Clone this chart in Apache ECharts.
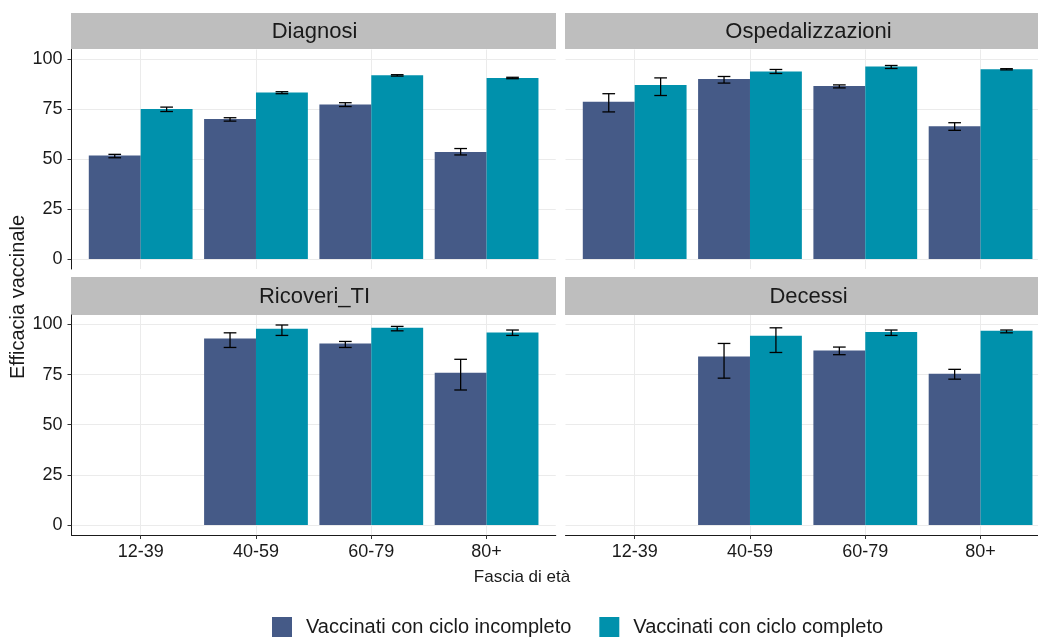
<!DOCTYPE html>
<html>
<head>
<meta charset="utf-8">
<script src="https://cdn.jsdelivr.net/npm/echarts@6/dist/echarts.min.js"></script>
<style>
  html, body { margin: 0; padding: 0; background: #ffffff; }
  #chart { width: 1038px; height: 637px; }
</style>
</head>
<body>
<div id="chart"></div>
<script>
// Vaccine effectiveness by age band, four outcomes, two vaccination statuses.
const ageGroups = ['12-39', '40-59', '60-79', '80+'];
const panels = ['Diagnosi', 'Ospedalizzazioni', 'Ricoveri_TI', 'Decessi'];
const groupNames = ['Vaccinati con ciclo incompleto', 'Vaccinati con ciclo completo'];
const yTicks = [0, 25, 50, 75, 100];

// Estimates and 95% intervals per outcome (null = no estimate)
const diagIncomplete     = [51.7, 69.9, 77.2, 53.5];
const diagIncompleteLo   = [50.6, 68.9, 76.2, 52.0];
const diagIncompleteHi   = [52.3, 70.6, 78.1, 55.2];
const diagComplete       = [74.9, 83.2, 91.8, 90.5];
const diagCompleteLo     = [73.7, 82.6, 91.4, 90.1];
const diagCompleteHi     = [75.9, 83.6, 92.1, 90.8];

const ospIncomplete      = [78.6, 90.0, 86.5, 66.3];
const ospIncompleteLo    = [73.5, 87.9, 85.5, 64.3];
const ospIncompleteHi    = [82.6, 91.2, 87.0, 68.1];
const ospComplete        = [87.0, 93.7, 96.2, 94.8];
const ospCompleteLo      = [81.7, 92.7, 95.2, 94.5];
const ospCompleteHi      = [90.5, 94.7, 96.7, 95.1];

const tiIncomplete       = [null, 93.0, 90.5, 75.9];
const tiIncompleteLo     = [null, 88.5, 88.5, 67.3];
const tiIncompleteHi     = [null, 95.8, 91.5, 82.6];
const tiComplete         = [null, 97.8, 98.3, 96.0];
const tiCompleteLo       = [null, 94.5, 96.8, 94.5];
const tiCompleteHi       = [null, 99.7, 99.0, 97.2];

const decIncomplete      = [null, 84.0, 87.0, 75.4];
const decIncompleteLo    = [null, 73.2, 84.9, 72.7];
const decIncompleteHi    = [null, 90.5, 88.7, 77.6];
const decComplete        = [null, 94.3, 96.2, 96.8];
const decCompleteLo      = [null, 86.0, 94.5, 95.8];
const decCompleteHi      = [null, 98.3, 97.2, 97.2];

const panelData = [
  [[diagIncomplete, diagIncompleteLo, diagIncompleteHi], [diagComplete, diagCompleteLo, diagCompleteHi]],
  [[ospIncomplete, ospIncompleteLo, ospIncompleteHi], [ospComplete, ospCompleteLo, ospCompleteHi]],
  [[tiIncomplete, tiIncompleteLo, tiIncompleteHi], [tiComplete, tiCompleteLo, tiCompleteHi]],
  [[decIncomplete, decIncompleteLo, decIncompleteHi], [decComplete, decCompleteLo, decCompleteHi]]
];

const colors = ['#455a87', '#0091ac'];
const FONT = "'Liberation Sans', Arial, sans-serif";
const gridColor = '#ebebeb';
const axisColor = '#1a1a1a';
const CANVAS_W = 1038;

// Shared y range: data range padded by 5% on both sides
let yTop = 0;
panelData.forEach(p => p.forEach(g => g[2].forEach(v => { if (v != null) yTop = Math.max(yTop, v); })));
const yPad = yTop * 0.05;

// Panel frames; the right-hand column runs past the canvas edge, so its
// x range is cut at the canvas border while keeping the same px-per-band.
const leftX = 71.5, rightX = 565.5, bandPx = 115.3;
const frames = [
  { left: leftX,  top: 49.5, height: 219.5 },
  { left: rightX, top: 49.5, height: 219.5 },
  { left: leftX,  top: 315,  height: 220 },
  { left: rightX, top: 315,  height: 220 }
];
frames.forEach((f, i) => {
  const full = 4.2 * bandPx;
  f.width = Math.min(full, CANVAS_W - f.left);
  f.xMax = 0.4 + f.width / bandPx;
});
const strips = [
  { x: 71, y: 13, w: 485, h: 36 },
  { x: 565, y: 13, w: 485, h: 36 },
  { x: 71, y: 277, w: 485, h: 38 },
  { x: 565, y: 277, w: 485, h: 38 }
];

const grids = [], xAxes = [], yAxes = [], series = [];
frames.forEach((f, i) => {
  const isBottom = i >= 2, isLeft = i % 2 === 0;
  grids.push({ left: f.left, top: f.top, width: f.width, height: f.height, containLabel: false });
  xAxes.push({
    type: 'value', gridIndex: i, min: 0.4, max: f.xMax,
    axisLine: { show: isBottom, onZero: false, lineStyle: { color: axisColor, width: 1 } },
    axisTick: { show: isBottom, length: 4, customValues: [1, 2, 3, 4], lineStyle: { color: '#333' } },
    axisLabel: {
      show: isBottom, customValues: [1, 2, 3, 4], margin: 8,
      fontSize: 18, color: axisColor, fontFamily: FONT,
      formatter: v => ageGroups[Math.round(v) - 1] || ''
    },
    splitLine: { show: true, lineStyle: { color: gridColor, width: 1 } }
  });
  yAxes.push({
    type: 'value', gridIndex: i, min: -yPad, max: yTop + yPad,
    axisLine: { show: isLeft, onZero: false, lineStyle: { color: axisColor, width: 1 } },
    axisTick: { show: isLeft, length: 4, customValues: yTicks, lineStyle: { color: '#333' } },
    axisLabel: {
      show: isLeft, customValues: yTicks, margin: 9,
      fontSize: 18, color: axisColor, fontFamily: FONT
    },
    splitLine: { show: true, lineStyle: { color: gridColor, width: 1 } }
  });

  panelData[i].forEach((g, gi) => {
    const [vals, lo, hi] = g;
    const data = [];
    vals.forEach((v, k) => { if (v != null) data.push([k + 1, v, lo[k], hi[k]]); });
    const offset = gi === 0 ? -0.225 : 0.225;
    const fill = colors[gi];
    series.push({
      type: 'custom', name: groupNames[gi], xAxisIndex: i, yAxisIndex: i,
      itemStyle: { color: fill },
      encode: { x: 0, y: [1, 2, 3] },
      data: data,
      renderItem: function (params, api) {
        const x = api.value(0) + offset;
        const top = api.coord([x, api.value(1)]);
        const base = api.coord([x, 0]);
        const pLo = api.coord([x, api.value(2)]);
        const pHi = api.coord([x, api.value(3)]);
        const w = api.size([0.45, 0])[0];
        const cap = api.size([0.11, 0])[0];
        const es = { stroke: '#000', lineWidth: 1.3 };
        return {
          type: 'group',
          children: [
            { type: 'rect', shape: { x: top[0] - w / 2, y: top[1], width: w, height: base[1] - top[1] }, style: { fill: fill } },
            { type: 'line', shape: { x1: pLo[0], y1: pLo[1], x2: pHi[0], y2: pHi[1] }, style: es },
            { type: 'line', shape: { x1: pLo[0] - cap / 2, y1: pLo[1], x2: pLo[0] + cap / 2, y2: pLo[1] }, style: es },
            { type: 'line', shape: { x1: pHi[0] - cap / 2, y1: pHi[1], x2: pHi[0] + cap / 2, y2: pHi[1] }, style: es }
          ]
        };
      }
    });
  });
});

// Facet strips and axis titles
const graphics = [];
strips.forEach((s, i) => {
  graphics.push({ type: 'rect', shape: { x: s.x, y: s.y, width: s.w, height: s.h }, style: { fill: '#bebebe' }, silent: true });
  graphics.push({
    type: 'text', x: s.x + s.w / 2 + 1, y: s.y + s.h / 2 + 1,
    style: { text: panels[i], fontSize: 22, fill: axisColor, fontFamily: FONT, align: 'center', verticalAlign: 'middle' }
  });
});
graphics.push({
  type: 'text', x: 522, y: 577,
  style: { text: 'Fascia di età', fontSize: 17, fill: axisColor, fontFamily: FONT, align: 'center', verticalAlign: 'middle' }
});
graphics.push({
  type: 'text', x: 18, y: 297, rotation: Math.PI / 2,
  style: { text: 'Efficacia vaccinale', fontSize: 20, fill: axisColor, fontFamily: FONT, align: 'center', verticalAlign: 'middle' }
});

const chart = echarts.init(document.getElementById('chart'), null, { renderer: 'canvas' });
chart.setOption({
  animation: false,
  backgroundColor: '#ffffff',
  grid: grids,
  xAxis: xAxes,
  yAxis: yAxes,
  series: series,
  legend: {
    data: groupNames, left: 267, top: 612, icon: 'rect',
    itemWidth: 20, itemHeight: 20, itemGap: 28, selectedMode: false,
    textStyle: { fontSize: 20, color: axisColor, fontFamily: FONT, padding: [0, 0, 0, 9] }
  },
  graphic: graphics
});
</script>
</body>
</html>
